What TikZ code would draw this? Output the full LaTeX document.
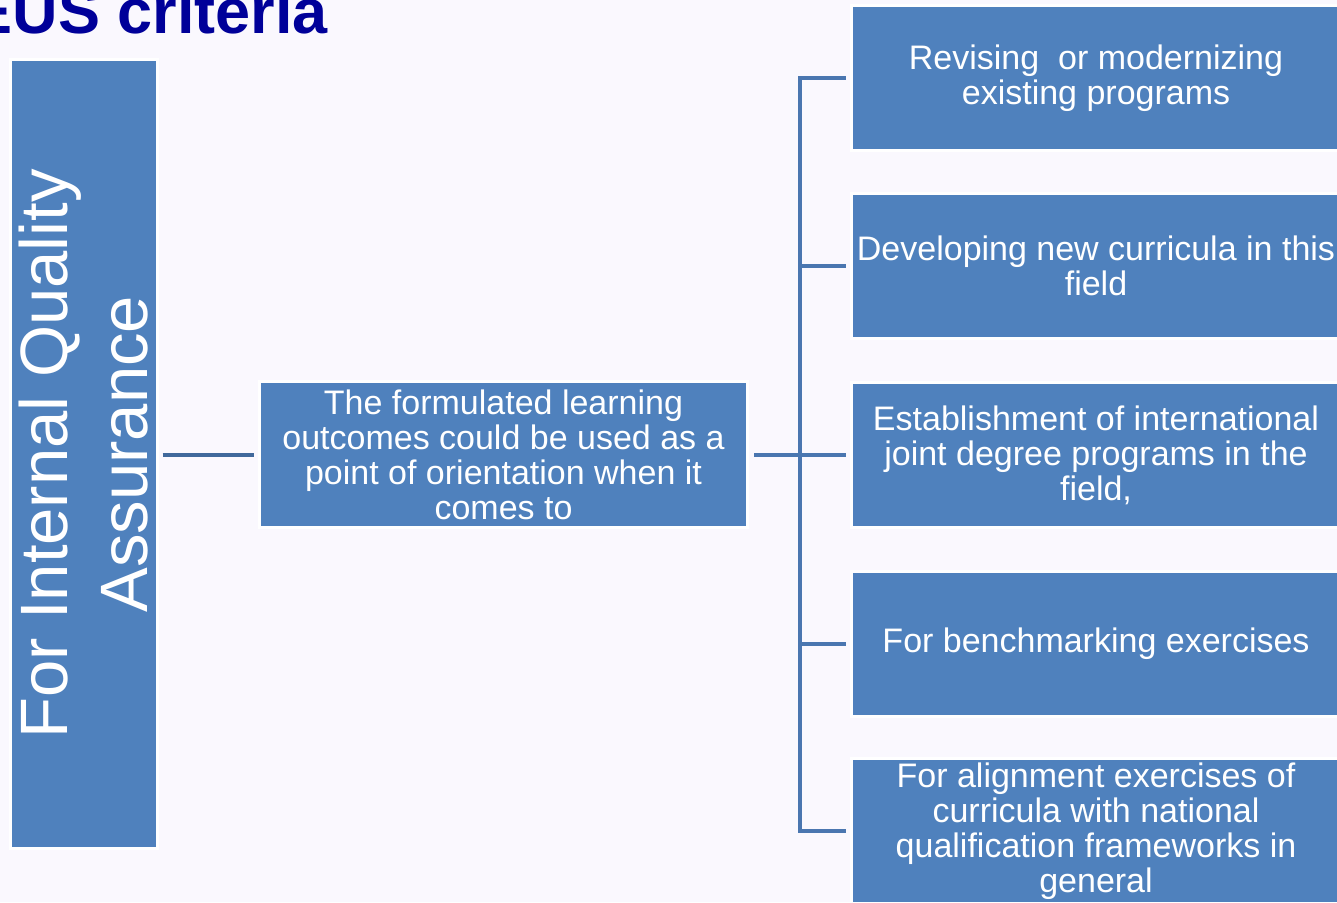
\documentclass[tikz,border=0pt]{standalone}
\usepackage{fontspec}
\setmainfont{Liberation Sans}
\definecolor{bg}{RGB}{250,248,254}
\definecolor{boxblue}{RGB}{79,129,189}
\definecolor{conblue}{RGB}{74,118,176}
\definecolor{condark}{RGB}{65,105,156}
\definecolor{titleblue}{RGB}{0,0,153}
\tikzset{
  box/.style={draw=white, line width=3pt, fill=boxblue, text=white, inner sep=0pt,
    align=center, font=\fontsize{34}{35}\selectfont},
  rbox/.style={box, minimum width=489pt, minimum height=145pt},
  con/.style={draw=conblue, line width=4pt},
}
\begin{document}
\begin{tikzpicture}[x=1pt,y=-1pt]
\useasboundingbox (0,0) rectangle (1337,902);
\clip (0,0) rectangle (1337,902);
\fill[bg] (0,0) rectangle (1337,902);
\node[anchor=base west, inner sep=0pt, text=titleblue,
  font=\fontsize{63}{70}\bfseries\selectfont] (title) at (-29.5,33) {EUS criteria};
\node[box, minimum width=147pt, minimum height=789pt] (left) at (83.5,454) {};
\node[rotate=90, text=white, inner sep=0pt, align=center,
  font=\fontsize{67}{80}\selectfont] (lefttext) at (left.center) {For Internal Quality\\Assurance};
\node[box, minimum width=488pt, minimum height=146pt] (mid) at (503.5,454.5)
  {The formulated learning\\outcomes could be used as a\\point of orientation when it\\comes to};
\node[rbox] (r1) at (1096,78) {Revising~~or modernizing\\existing programs};
\node[rbox] (r2) at (1096,266) {Developing new curricula in this\\field};
\node[rbox] (r3) at (1096,455) {Establishment of international\\joint degree programs in the\\field,};
\node[rbox] (r4) at (1096,644) {For benchmarking exercises};
\node[rbox] (r5) at (1096,831) {For alignment exercises of\\curricula with national\\qualification frameworks in\\general};
\coordinate (bus) at (800,454.5);
\draw[con, draw=condark] ([xshift=4pt]left.east |- mid.west) -- ([xshift=-4.5pt]mid.west);
\draw[con] ([xshift=5pt]mid.east) -- (bus);
\draw[con] ([xshift=-4.5pt]r1.west) -| (bus |- r5.west) -- ([xshift=-4.5pt]r5.west);
\draw[con] (bus |- r2.west) -- ([xshift=-4.5pt]r2.west);
\draw[con] (bus |- r3.west) -- ([xshift=-4.5pt]r3.west);
\draw[con] (bus |- r4.west) -- ([xshift=-4.5pt]r4.west);
\end{tikzpicture}
\end{document}
